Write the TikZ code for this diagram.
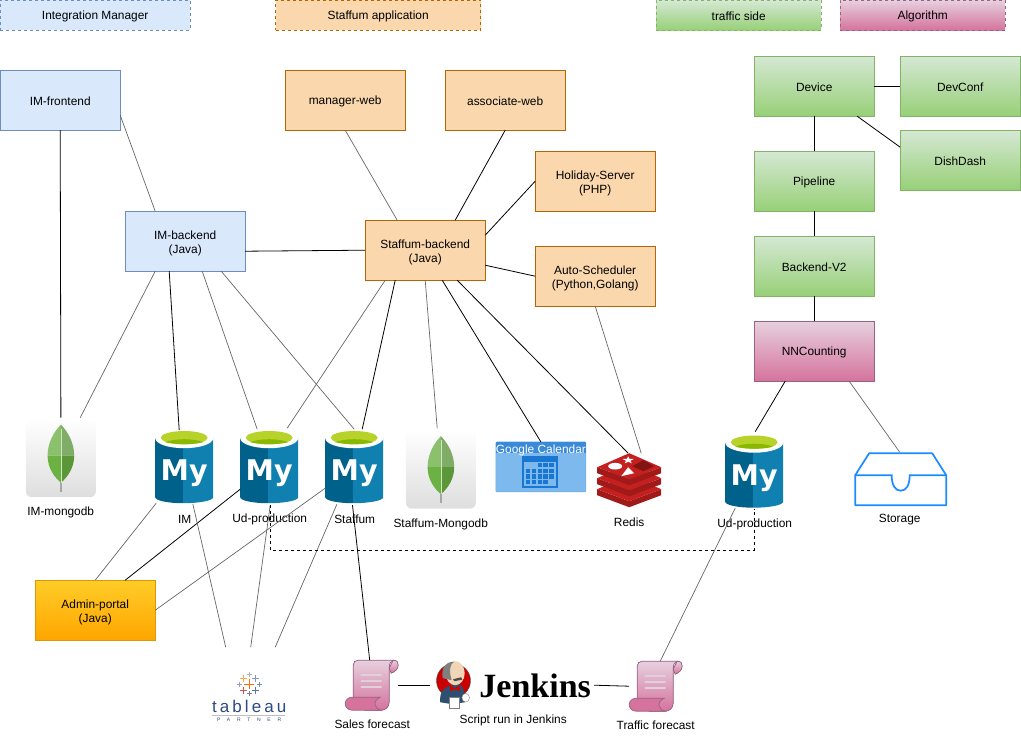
\documentclass[tikz,border=0pt]{standalone}
\usepackage{fontspec}
\setmainfont{Liberation Sans}
\newfontfamily\logofont{DejaVu Sans}
\newfontfamily\jenkfont{Liberation Serif}
\newfontfamily\tabfont[LetterSpace=18]{Liberation Sans}
\newfontfamily\partfont[LetterSpace=135]{Liberation Sans}
\usetikzlibrary{calc, positioning}

\definecolor{myleft}{HTML}{00618A}
\definecolor{myright}{HTML}{0F80B0}
\definecolor{mygreen}{HTML}{B7D32A}
\definecolor{mygreendark}{HTML}{8AB800}
\definecolor{redisdark}{HTML}{A01A19}
\definecolor{redislight}{HTML}{C4201F}
\definecolor{calblue}{HTML}{1976D2}
\definecolor{callight}{HTML}{7DB9EC}
\definecolor{tabnavy}{HTML}{2B4A7F}
\definecolor{stored}{HTML}{1A8CFF}
\definecolor{imline}{HTML}{6C8EBF}
\definecolor{imfill}{HTML}{DAE8FC}
\definecolor{staffline}{HTML}{B46504}
\definecolor{stafffill}{HTML}{FAD7AC}
\definecolor{trafficline}{HTML}{82B366}
\definecolor{traffictop}{HTML}{D5E8D4}
\definecolor{trafficbot}{HTML}{97D077}
\definecolor{algoline}{HTML}{996185}
\definecolor{algotop}{HTML}{E6D0DE}
\definecolor{algobot}{HTML}{D5739D}
\definecolor{adminline}{HTML}{D79B00}
\definecolor{admintop}{HTML}{FFCD28}
\definecolor{adminbot}{HTML}{FFA500}
\definecolor{leafa}{HTML}{8BC06C}
\definecolor{leafb}{HTML}{7FAC67}
\definecolor{leafc}{HTML}{6BB243}
\definecolor{leafd}{HTML}{5B9638}
\definecolor{butlersuit}{HTML}{2F4F70}
\definecolor{butlerskin}{HTML}{F0D6B7}

\tikzset{
    labeltext/.style={font=\fontsize{11.9}{14}\selectfont, align=center, execute at begin node={\rule{0pt}{10.4pt}}},
    twolines/.style={execute at begin node={\rule{0pt}{26.6pt}}},
    appbox/.style={labeltext, minimum width=120pt, minimum height=60pt, inner sep=0pt, outer sep=0pt, line width=0.8pt},
    imbox/.style={appbox, draw=imline, fill=imfill},
    staffbox/.style={appbox, draw=staffline, fill=stafffill},
    trafficbox/.style={appbox, draw=trafficline, top color=traffictop, bottom color=trafficbot},
    algobox/.style={appbox, draw=algoline, top color=algotop, bottom color=algobot},
    adminbox/.style={appbox, draw=adminline, top color=admintop, bottom color=adminbot},
    legendbox/.style={dashed, minimum height=30pt},
    iconbox/.style={inner sep=0pt, outer sep=0pt},
    link/.style={black, line width=0.8pt},
    graylink/.style={black!60, line width=0.7pt},
    pics/mysqlicon/.style={code={
        \node[iconbox, minimum width=58pt, minimum height=74pt] (-box) at (0,0) {};
        \fill[myleft] (-29,-29) -- (-29,30) arc[start angle=180, end angle=90, x radius=28, y radius=6] -- (-1,-29) -- cycle;
        \fill[myright] (-1,-29) -- (-1,36) arc[start angle=90, end angle=0, x radius=30, y radius=6] -- (29,-29) -- cycle;
        \fill[white] (0,-29) ellipse[x radius=29, y radius=10];
        \fill[mygreen] (0,-29.5) ellipse[x radius=23.5, y radius=6.7];
        \fill[mygreendark] (-19,-25) .. controls (-10,-29) and (10,-29) .. (19,-25) .. controls (10,-22.5) and (-10,-22.5) .. (-19,-25) -- cycle;
        \node[iconbox, text=white] (-txt) at (0,6) {\logofont\bfseries\fontsize{28.5}{30}\selectfont My};
    }},
    pics/mongoicon/.style={code={
        \node[iconbox, minimum width=70pt, minimum height=79pt, rounded corners=6pt, top color=white, bottom color=black!13] (-box) at (0,0) {};
        \fill[leafa] (0,-33) .. controls (-7,-26) and (-13.3,-15) .. (-13.3,-2) -- (0,-2) -- cycle;
        \fill[leafb] (0,-33) .. controls (7,-26) and (13.3,-15) .. (13.3,-2) -- (0,-2) -- cycle;
        \fill[leafc] (-13.3,-2) .. controls (-13.3,10) and (-7,19) .. (0,25) -- (0,-2) -- cycle;
        \fill[leafd] (13.3,-2) .. controls (13.3,10) and (7,19) .. (0,25) -- (0,-2) -- cycle;
        \draw[black!35, line width=1.6pt] (0,24) -- (0,34);
        \draw[leafa!40!white, line width=0.5pt] (0,-29) -- (0,25);
    }},
    pics/scrollicon/.style={code={
        \node[iconbox, minimum width=53pt, minimum height=50pt] (-box) at (0,0) {};
        \begin{scope}[shift={(-26.5,-25)}]
            \filldraw[draw=algoline, line width=0.7pt, top color=algotop, bottom color=algobot]
                (48,0) .. controls (52,0) and (53,2) .. (53,5) .. controls (53,9) and (49,12) .. (46,13) -- (44,8) -- cycle;
            \filldraw[draw=algoline, line width=0.7pt, top color=algotop, bottom color=algobot]
                (8,38) -- (8,5) .. controls (8,2) and (10,0) .. (13,0) -- (48,0) .. controls (45,1) and (44,4) .. (44,8) -- (44,42) .. controls (44,47) and (40,50) .. (36,50) -- (20,50) -- cycle;
            \filldraw[draw=algoline, line width=0.7pt, fill=algobot]
                (7,37) -- (35,37) .. controls (31,39) and (29,42) .. (30,45) .. controls (31,48) and (33,50) .. (36,50) -- (7,50) .. controls (3,50) and (0,47) .. (0,43.5) .. controls (0,40) and (3,37) .. (7,37) -- cycle;
            \foreach \ly in {15,21,27}
                \draw[algoline!30!white, line width=1.6pt, line cap=round] (16,\ly) -- (36,\ly);
        \end{scope}
    }}
}

\begin{document}
\begin{tikzpicture}[x=1pt, y=-1pt]
    \useasboundingbox (-0.2,-0.2) rectangle (1020.8,747.8);

    % legend
    \node[imbox, legendbox, minimum width=190pt] (legendim) at (95,15) {Integration Manager};
    \node[staffbox, legendbox, minimum width=205pt] (legendstaff) at (378,15) {Staffum application};
    \node[trafficbox, legendbox, minimum width=165pt] (legendtraffic) at (738.5,15) {traffic side};
    \node[algobox, legendbox, minimum width=165pt] (legendalgo) at (922.5,15) {Algorithm};

    % integration manager
    \node[imbox] (imfront) at (60,100) {IM-frontend};
    \node[imbox, twolines] (imback) at (185,241) {IM-backend\\(Java)};

    % staffum
    \node[staffbox] (managerweb) at (345,100) {manager-web};
    \node[staffbox] (assocweb) at (505,100) {associate-web};
    \node[staffbox, twolines] (holiday) at (595,181) {Holiday-Server\\(PHP)};
    \node[staffbox, twolines] (staffback) at (425,250) {Staffum-backend\\(Java)};
    \node[staffbox, twolines] (autosched) at (595,276) {Auto-Scheduler\\(Python,Golang)};
    \node[adminbox, twolines] (admin) at (95,610) {Admin-portal\\(Java)};

    % traffic side
    \node[trafficbox] (device) at (814,86) {Device};
    \node[trafficbox] (devconf) at (960,86) {DevConf};
    \node[trafficbox] (dishdash) at (960,160) {DishDash};
    \node[trafficbox] (pipeline) at (814,181) {Pipeline};
    \node[trafficbox] (backendv) at (814,266) {Backend-V2};
    \node[algobox] (nncount) at (814,351) {NNCounting};

    % databases
    \pic (immongo) at (60.7,457.5) {mongoicon};
    \pic (imdb) at (184,467) {mysqlicon};
    \pic (uddb) at (269,467) {mysqlicon};
    \pic (stdb) at (354,467) {mysqlicon};
    \pic (stmongo) at (440.7,469) {mongoicon};
    \pic (udtwo) at (754,471.5) {mysqlicon};

    % google calendar
    \node[iconbox, draw=callight!80!calblue, fill=callight, rounded corners=1pt, minimum width=90pt, minimum height=50pt] (gcal) at (540.7,466.7) {};
    \fill[calblue!85!white] (495.7,441.7) rectangle (585.7,453);
    \fill[calblue] (522,456) rectangle (558,488);
    \fill[callight] (524,462) rectangle (556,486);
    \foreach \cy/\cols in {0/{2,3,4},1/{0,1,2,3,4},2/{0,1,2,3,4},3/{0,1,2,3}}
        \foreach \cx in \cols
            \fill[calblue] (525.5+5.9*\cx,463+5.6*\cy) rectangle ++(4.3,4.2);
    \node[labeltext, text=white, inner sep=0pt] (gcaltxt) at (540.7,449) {Google Calendar};

    % redis
    \node[iconbox, minimum width=64pt, minimum height=54pt] (redis) at (629,480) {};
    \begin{scope}[shift={(629,480)}]
        \foreach \dy in {22,11,0} {
            \fill[redisdark] (-32,-13+\dy) -- (0,-1+\dy) -- (32,-13+\dy) -- (32,-7+\dy) -- (0,5+\dy) -- (-32,-7+\dy) -- cycle;
            \fill[redislight] (-32,-13+\dy) -- (0,-27+\dy) -- (32,-13+\dy) -- (0,-1+\dy) -- cycle;
        }
        \fill[white] (-14,-14) ellipse[x radius=7, y radius=3.3];
        \fill[white, shift={(-1,-20)}] (0,-3.9) -- (1.4,-1.26) -- (5.7,-1.2) -- (2.28,.48) -- (3.5,3.15) -- (0,1.56) -- (-3.5,3.15) -- (-2.28,.48) -- (-5.7,-1.2) -- (-1.4,-1.26) -- cycle;
        \fill[white] (-8,-4) -- (-1,-13) -- (5,-7) -- cycle;
        \fill[redisdark!80!black] (14,-20) -- (25,-14) -- (14,-9) -- (3,-14) -- cycle;
    \end{scope}

    % storage
    \node[iconbox, minimum width=91pt, minimum height=52pt] (storage) at (900.5,479) {};
    \draw[stored, line width=1.7pt, line join=round] (855,475) -- (869,453) -- (932,453) -- (946,475) -- (946,505) -- (855,505) -- cycle;
    \draw[stored, line width=1.7pt] (855,475) -- (891.5,475) .. controls (891.5,485) and (895,490.5) .. (900.5,490.5) .. controls (906,490.5) and (909.5,485) .. (909.5,475) -- (946,475);

    % tableau
    \node[iconbox, minimum width=75pt, minimum height=76pt] (tableau) at (249,685) {};
    \foreach \dx/\dy/\sz/\crosscol in {-6/-6/3.5/orange!70!white, 6/-6/3.5/blue!25!gray!70!white, -6/6/3.5/red!60!gray!85!white, 6/6/3.5/tabnavy!75!white, 0/-9.5/2.5/gray!60!white, 0/9.5/2.5/tabnavy!70!white, -10/0/2.5/blue!30!gray!60!white, 10/0/2.5/teal!50!gray!80!white, 0/0/5/orange!85!red}
        \draw[\crosscol, line width=1pt] (249+\dx-\sz,684+\dy) -- (249+\dx+\sz,684+\dy) (249+\dx,684+\dy-\sz) -- (249+\dx,684+\dy+\sz);
    \node[iconbox, text=tabnavy] (tabtxt) at (249,706.5) {\tabfont\fontsize{17}{18}\selectfont tableau};
    \draw[black!25, line width=0.4pt] (212,715.3) -- (285,715.3);
    \node[iconbox, text=tabnavy] (tabpart) at (249,719.2) {\partfont\fontsize{5}{5}\selectfont PARTNER};

    % scripts and jenkins
    \pic (salesfc) at (371.5,685) {scrollicon};
    \pic (trafficfc) at (655.5,686) {scrollicon};
    \node[iconbox, minimum width=164pt, minimum height=50pt] (jenkins) at (512,685) {};
    \filldraw[draw=black!70, fill=red!80!black, line width=0.4pt] (453.3,680.5) circle[radius=17];
    \fill[butlersuit] (440,702) .. controls (439,692) and (444,686) .. (452,685) -- (460,684) .. controls (464,688) and (465,694) .. (465,702) -- (452,704) -- cycle;
    \fill[butlerskin] (455,673) ellipse[x radius=9.5, y radius=12];
    \fill[black!50] (442.5,678) .. controls (440.5,668) and (446,661) .. (454,661.5) .. controls (449,664) and (449,672) .. (451.5,680) -- cycle;
    \fill[black!70] (453,679) -- (461,677) -- (462,679.5) -- (454,681) -- cycle;
    \fill[red!85!black] (450,685.5) -- (455,688) -- (460,685.5) -- (460,691) -- (455,689) -- (450,691) -- cycle;
    \filldraw[draw=black!50, fill=white, line width=0.4pt] (449,697) rectangle (459,708);
    \filldraw[draw=black!50, fill=white, line width=0.4pt] (465.5,697.5) ellipse[x radius=3.8, y radius=4.3];
    \node[iconbox] (jenktxt) at (535,685.5) {\jenkfont\bfseries\fontsize{34}{35}\selectfont Jenkins};

    % icon labels
    \node[labeltext] (immongolbl) at (60.5,511) {IM-mongodb};
    \node[labeltext] (imlbl) at (184.5,518.5) {IM};
    \node[labeltext] (udlbl) at (269.5,518.5) {Ud-production};
    \node[labeltext] (stlbl) at (354.5,518.5) {Staffum};
    \node[labeltext] (stmongolbl) at (440.5,523) {Staffum-Mongodb};
    \node[labeltext] (redislbl) at (629,521.5) {Redis};
    \node[labeltext] (udtwolbl) at (754.5,523.5) {Ud-production};
    \node[labeltext] (storagelbl) at (899.5,518.5) {Storage};
    \node[labeltext] (saleslbl) at (372,723.5) {Sales forecast};
    \node[labeltext] (scriptlbl) at (513,719.5) {Script run in Jenkins};
    \node[labeltext] (trafficlbl) at (655.5,724.5) {Traffic forecast};

    % connectors
    \draw[link] (imfront.south) -- ($(immongo-box)+(0,-40)$);
    \draw[graylink] ($(imfront.east)+(0,15)$) -- ($(imback.north)+(-30,0)$);
    \draw[graylink] ($(imback.south)+(-30,0)$) -- ($(immongo-box)+(19.3,-40)$);
    \draw[link] ($(imback.south)+(-16,0)$) -- ($(imdb-box)+(-5,-37)$);
    \draw[graylink] ($(imback.south)+(17,0)$) -- ($(uddb-box)+(-12,-38)$);
    \draw[graylink] ($(imback.south)+(36,0)$) -- ($(stdb-box)+(0,-38)$);
    \draw[link] ($(imback.east)+(0,10)$) -- (staffback.west);
    \draw[graylink] (managerweb.south) -- ($(staffback.north)+(-28,0)$);
    \draw[link] (assocweb.south) -- ($(staffback.north)+(30,0)$);
    \draw[link] (holiday.west) -- ($(staffback.east)+(0,-15)$);
    \draw[link] (autosched.west) -- ($(staffback.east)+(0,15)$);
    \draw[graylink] (autosched.south) -- ($(redis)+(12,-27)$);
    \draw[graylink] ($(staffback.south)+(-40,0)$) -- ($(uddb-box)+(18,-39)$);
    \draw[link] ($(staffback.south)+(-30,0)$) -- ($(stdb-box)+(8,-38)$);
    \draw[graylink] (staffback.south) -- ($(stmongo-box)+(-3.7,-41)$);
    \draw[link] ($(staffback.south)+(17,0)$) -- (gcal.north);
    \draw[link] ($(staffback.south)+(32,0)$) -- ($(redis)+(-1,-27)$);

    \draw[link] (device.south) -- (pipeline.north);
    \draw[link] (device.east) -- (devconf.west);
    \draw[link] ($(device.south)+(43,0)$) -- ($(dishdash.west)+(0,-13)$);
    \draw[link] (pipeline.south) -- (backendv.north);
    \draw[link] (backendv.south) -- (nncount.north);
    \draw[link] ($(nncount.south)+(-29,0)$) -- ($(udtwo-box)+(1,-40)$);
    \draw[graylink] ($(nncount.south)+(35,0)$) -- ($(storage)+(-1,-27)$);

    \draw[graylink] ($(imdb-box)+(-28,36)$) -- (admin.north);
    \draw[link] ($(uddb-box)+(-29,22)$) -- ($(admin.north)+(30,0)$);
    \draw[graylink] ($(stdb-box)+(-29,21)$) -- (admin.east);
    \draw[graylink] ($(imdb-box)+(8.7,37)$) -- ($(tableau.north)+(-23.5,0)$);
    \draw[graylink] ($(uddb-box)+(1,38)$) -- ($(tableau.north)+(1.5,0)$);
    \draw[graylink] ($(stdb-box)+(-17.3,37)$) -- ($(tableau.north)+(26,0)$);
    \draw[link] ($(stdb-box)+(-1.7,38)$) -- ($(salesfc-box.north)+(-2,0)$);
    \draw[graylink] ($(udtwo-box)+(-19,36.5)$) -- ($(trafficfc-box.north)+(4.5,0)$);
    \coordinate (dashmid) at (512,550);
    \draw[link, dashed] ($(uddb-box)+(1,38)$) |- (dashmid) -| ($(udtwo-box)+(0,37)$);
    \draw[link] (salesfc-box.east) -- (jenkins.west);
    \draw[link] (jenkins.east) -- (trafficfc-box.west);
\end{tikzpicture}
\end{document}
